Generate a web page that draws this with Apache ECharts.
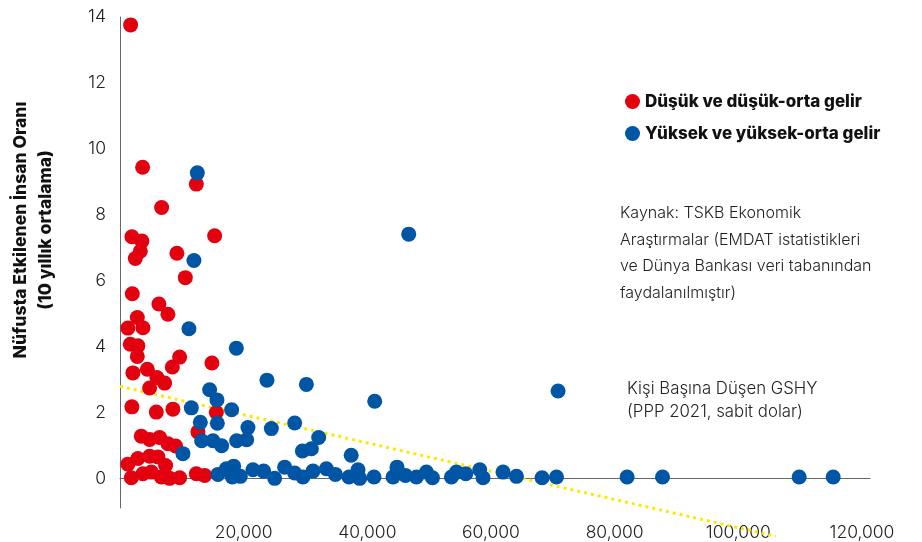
<!DOCTYPE html>
<html><head><meta charset="utf-8">
<script src="https://cdn.jsdelivr.net/npm/echarts@6/dist/echarts.min.js"></script>
<style>html,body{margin:0;padding:0;background:#fff}#c{width:922px;height:542px}</style>
</head><body><div id="c"></div>
<script>
// Düşük ve düşük-orta gelir (GSHY per capita, affected ratio)
const lowIncomeX = [1715, 3657, 12345, 6731, 1925, 3543, 15306, 3285, 2476, 9206,
  10566, 1990, 6294, 7750, 2799, 1278, 3705, 1667, 2896, 2799,
  9643, 8462, 14869, 2087, 4417, 5970, 7216, 4789, 1925, 5873,
  8559, 15581, 12604, 3446, 4789, 6407, 7750, 8996, 1278, 2896,
  4789, 6132, 7378, 1828, 3705, 5064, 6682, 8025, 9643, 12345, 13688];
const lowIncomeY = [13.76, 9.44, 8.93, 8.22, 7.33, 7.20, 7.36, 6.89, 6.67, 6.83,
  6.09, 5.60, 5.29, 4.98, 4.88, 4.56, 4.57, 4.07, 4.02, 3.70,
  3.68, 3.38, 3.50, 3.20, 3.31, 3.06, 2.89, 2.74, 2.17, 2.01,
  2.10, 2.00, 1.41, 1.28, 1.18, 1.24, 1.05, 0.98, 0.43, 0.60,
  0.67, 0.65, 0.39, 0.02, 0.14, 0.19, 0.04, 0.00, 0.02, 0.14, 0.09];
// Yüksek ve yüksek-orta gelir
const highIncomeX = [12507, 46695, 11957, 11148, 18817, 23768, 30143, 14497, 15678, 41194,
  70853, 11536, 18057, 12993, 15743, 20694, 24480, 28250, 32133, 13203,
  15031, 16439, 18866, 20484, 10177, 29497, 30953, 37392, 15841, 17200,
  18381, 18170, 19465, 21503, 23234, 25014, 26632, 28250, 29593, 31211,
  33379, 34835, 37036, 38492, 38767, 41081, 44155, 44802, 46161, 47941,
  49559, 50530, 53604, 54413, 55918, 58183, 58717, 61953, 64121, 68263,
  70593, 82016, 87744, 109846, 115347];
const highIncomeY = [9.27, 7.41, 6.61, 4.54, 3.95, 2.98, 2.85, 2.69, 2.38, 2.34,
  2.65, 2.14, 2.08, 1.70, 1.67, 1.54, 1.51, 1.68, 1.24, 1.14,
  1.14, 0.99, 1.14, 1.17, 0.75, 0.83, 0.90, 0.70, 0.12, 0.29,
  0.37, 0.04, 0.06, 0.26, 0.22, 0.00, 0.34, 0.16, 0.04, 0.22,
  0.29, 0.12, 0.04, 0.26, 0.00, 0.04, 0.04, 0.34, 0.09, 0.04,
  0.19, 0.02, 0.04, 0.19, 0.14, 0.26, 0.02, 0.19, 0.06, 0.02,
  0.04, 0.04, 0.04, 0.04, 0.04];
// Linear trend line end points
const trendX = [0, 106080];
const trendY = [2.79, -1.76];
const xTickValues = [20000, 40000, 60000, 80000, 100000, 120000];
const yTickValues = [0, 2, 4, 6, 8, 10, 12, 14];
const seriesNames = ['Düşük ve düşük-orta gelir', 'Yüksek ve yüksek-orta gelir'];
const yAxisTitle = 'Nüfusta Etkilenen İnsan Oranı\n(10 yıllık ortalama)';
const sourceNote = 'Kaynak: TSKB Ekonomik\nAraştırmalar (EMDAT istatistikleri\nve Dünya Bankası veri tabanından\nfaydalanılmıştır)';
const xNote = 'Kişi Başına Düşen GSHY\n(PPP 2021, sabit dolar)';

const zip = (xs, ys) => xs.map((x, i) => [x, ys[i]]);
const FONT = 'Inter';
const RED = '#E3000F';
const BLUE = '#0055A5';

const chart = echarts.init(document.getElementById('c'), null, {renderer: 'canvas'});
chart.setOption({
  animation: false,
  backgroundColor: '#ffffff',
  grid: {left: 120, right: 52, top: 17, bottom: 34, containLabel: false},
  legend: {
    data: seriesNames,
    orient: 'vertical',
    left: 620, top: 88,
    itemWidth: 15, itemHeight: 15, itemGap: 15,
    icon: 'circle',
    textStyle: {fontFamily: FONT, fontWeight: 800, fontSize: 17, color: '#111'}
  },
  xAxis: {
    type: 'value', min: 0, max: 121300,
    axisLine: {onZero: true, lineStyle: {color: '#666', width: 1}},
    axisTick: {show: false},
    splitLine: {show: false},
    axisLabel: {
      customValues: xTickValues,
      margin: 16, fontFamily: FONT, fontWeight: 300, fontSize: 17.5, color: '#222',
      formatter: v => Number(v).toLocaleString('en-US')
    }
  },
  yAxis: {
    type: 'value', min: -0.9, max: 14,
    axisLine: {show: true, onZero: true, lineStyle: {color: '#666', width: 1}},
    axisTick: {show: false},
    splitLine: {show: false},
    axisLabel: {
      customValues: yTickValues,
      margin: 14, fontFamily: FONT, fontWeight: 300, fontSize: 17.5, color: '#222'
    }
  },
  graphic: [
    {type: 'text', x: 33, y: 230, rotation: Math.PI / 2,
      style: {text: yAxisTitle, fontFamily: FONT, fontWeight: 800, fontSize: 17.5,
        lineHeight: 25, fill: '#111', align: 'center', verticalAlign: 'middle'}},
    {type: 'text', x: 620, y: 200,
      style: {text: sourceNote, fontFamily: FONT, fontWeight: 300, fontSize: 16,
        lineHeight: 26.5, fill: '#222', align: 'left', verticalAlign: 'top'}},
    {type: 'text', x: 627, y: 377,
      style: {text: xNote, fontFamily: FONT, fontWeight: 300, fontSize: 16.8,
        lineHeight: 23, fill: '#222', align: 'left', verticalAlign: 'top'}}
  ],
  series: [
    {name: 'trend', type: 'line', data: zip(trendX, trendY), symbol: 'none', clip: false,
      silent: true, z: 1,
      lineStyle: {color: '#FFE800', width: 3, type: [3, 4]}},
    {name: seriesNames[0], type: 'scatter', data: zip(lowIncomeX, lowIncomeY), symbolSize: 15,
      z: 2, itemStyle: {color: RED, opacity: 1}},
    {name: seriesNames[1], type: 'scatter', data: zip(highIncomeX, highIncomeY), symbolSize: 15,
      z: 3, itemStyle: {color: BLUE, opacity: 1}}
  ]
});
</script>
</body></html>
